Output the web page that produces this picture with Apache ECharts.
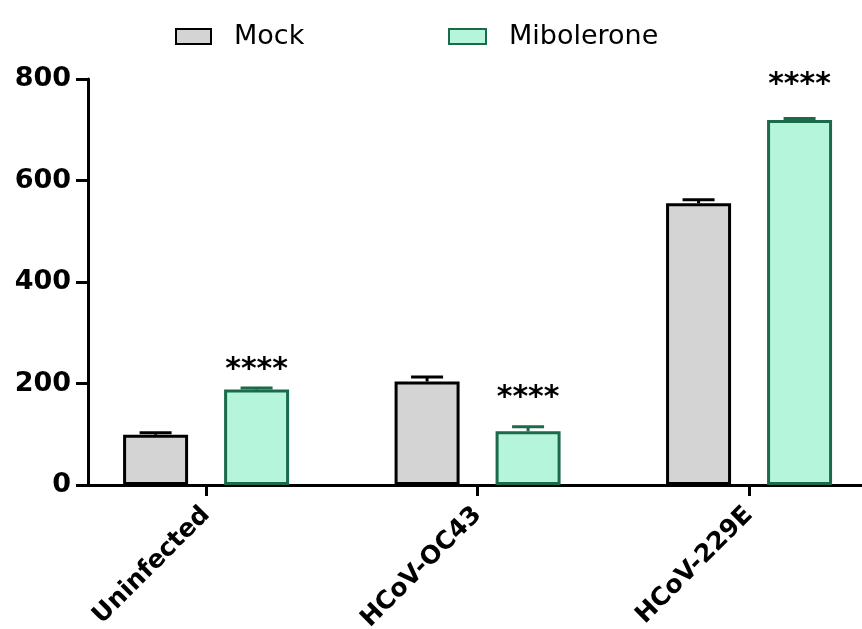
<!DOCTYPE html>
<html>
<head>
<meta charset="utf-8">
<script src="https://cdn.jsdelivr.net/npm/echarts@6/dist/echarts.min.js"></script>
<style>html,body{margin:0;padding:0;background:#fff}#c{width:862px;height:629px}</style>
</head>
<body>
<div id="c"></div>
<script>
const categories = ['Uninfected', 'HCoV-OC43', 'HCoV-229E'];
const seriesNames = ['Mock', 'Mibolerone'];
const mockValues = [99, 204, 555];
const mockErrors = [4, 9, 7];
const miboValues = [188, 106, 719];
const miboErrors = [3, 9, 3];
const sigLabels = ['****', '****', '****'];
const sigY = [227, 171, 788];
const yTicks = [0, 200, 400, 600, 800];

const MOCK_FILL = '#d4d4d4', MOCK_LINE = '#000000';
const MIBO_FILL = '#b4f5dc', MIBO_LINE = '#1b6b4a';
const BAR_W = 65, GAP = 36;
const OFF = (BAR_W + GAP) / 2;

function errSeries(values, errors, color, dir) {
  return {
    type: 'custom',
    z: 5,
    data: values.map((v, i) => [i, v, errors[i]]),
    renderItem: function (params, api) {
      const x = api.value(0), v = api.value(1), e = api.value(2);
      const p0 = api.coord([x, v]);
      const p1 = api.coord([x, v + e]);
      const cx = p0[0] + dir * OFF;
      return {
        type: 'group',
        children: [
          {type: 'line', shape: {x1: cx, y1: p0[1], x2: cx, y2: p1[1]}, style: {stroke: color, lineWidth: 3}},
          {type: 'line', shape: {x1: cx - 16, y1: p1[1], x2: cx + 16, y2: p1[1]}, style: {stroke: color, lineWidth: 3}}
        ]
      };
    }
  };
}

const chart = echarts.init(document.getElementById('c'));
chart.setOption({
  animation: false,
  backgroundColor: '#fff',
  legend: [
    {
      left: 170, top: 18, data: [seriesNames[0]], icon: 'rect',
      itemWidth: 35, itemHeight: 15, itemGap: 10,
      textStyle: {fontFamily: 'DejaVu Sans', fontSize: 27, color: '#000', padding: [0, 0, 0, 18]}
    },
    {
      left: 443, top: 18, data: [seriesNames[1]], icon: 'rect',
      itemWidth: 37, itemHeight: 15,
      textStyle: {fontFamily: 'DejaVu Sans', fontSize: 27, color: '#000', padding: [0, 0, 0, 18]}
    }
  ],
  grid: {left: 88, right: 0, top: 79, bottom: 144, containLabel: false, outerBoundsMode: 'none'},
  xAxis: {
    type: 'value',
    min: -0.435, max: 2.416,
    splitLine: {show: false},
    axisLine: {show: true, onZero: false, lineStyle: {color: '#000', width: 3}},
    axisTick: {show: true, customValues: [0, 1, 2], length: 11, lineStyle: {color: '#000', width: 3}},
    axisLabel: {
      customValues: [0, 1, 2],
      rotate: 45, margin: 26,
      fontFamily: 'DejaVu Sans', fontWeight: 'bold', fontSize: 25, color: '#000',
      formatter: v => categories[Math.round(v)] || ''
    }
  },
  yAxis: {
    type: 'value',
    min: 0, max: 800, interval: 200,
    splitLine: {show: false},
    axisLine: {show: true, onZero: false, lineStyle: {color: '#000', width: 3}},
    axisTick: {show: true, length: 12, lineStyle: {color: '#000', width: 3}},
    axisLabel: {
      margin: 17,
      fontFamily: 'DejaVu Sans', fontWeight: 'bold', fontSize: 27, color: '#000',
      formatter: v => yTicks.includes(v) ? String(v) : ''
    }
  },
  series: [
    {
      name: seriesNames[0], type: 'bar',
      barWidth: BAR_W, barGap: (GAP / BAR_W * 100) + '%',
      data: mockValues.map((v, i) => [i, v]),
      itemStyle: {color: MOCK_FILL, borderColor: MOCK_LINE, borderWidth: 3}
    },
    {
      name: seriesNames[1], type: 'bar',
      barWidth: BAR_W,
      data: miboValues.map((v, i) => [i, v]),
      itemStyle: {color: MIBO_FILL, borderColor: MIBO_LINE, borderWidth: 3}
    },
    errSeries(mockValues, mockErrors, MOCK_LINE, -1),
    errSeries(miboValues, miboErrors, MIBO_LINE, 1),
    {
      type: 'custom', z: 6,
      data: sigY.map((v, i) => [i, v]),
      renderItem: function (params, api) {
        const p = api.coord([api.value(0), api.value(1)]);
        return {
          type: 'text',
          style: {
            x: p[0] + OFF, y: p[1], text: sigLabels[params.dataIndex],
            align: 'center', verticalAlign: 'middle',
            font: 'bold 30px "DejaVu Sans"', fill: '#000'
          }
        };
      }
    }
  ]
});
</script>
</body>
</html>
